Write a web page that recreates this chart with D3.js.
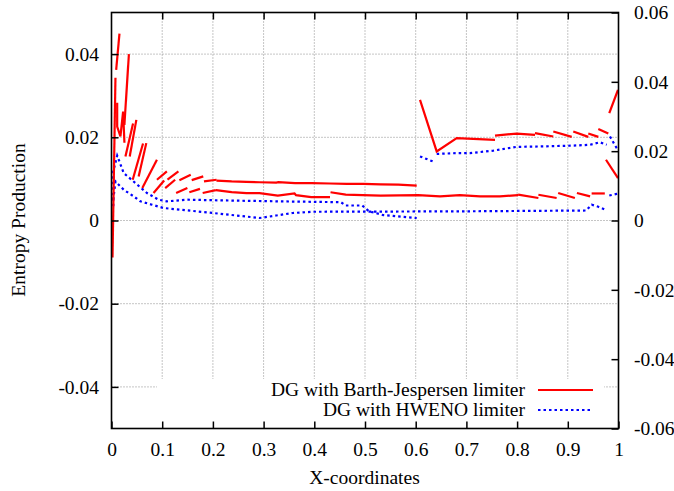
<!DOCTYPE html>
<html>
<head>
<meta charset="utf-8">
<script src="https://cdn.jsdelivr.net/npm/d3@7"></script>
<style>
  html, body { margin: 0; padding: 0; background: #fff; }
  svg { display: block; }
  text { font-family: "Liberation Serif", "Times New Roman", serif; fill: #000; }
</style>
</head>
<body>
<svg id="chart" width="674" height="491"></svg>
<script>
// ---------- data ----------
const xTicks = [0, 0.1, 0.2, 0.3, 0.4, 0.5, 0.6, 0.7, 0.8, 0.9, 1];
const xTickLabels = ["0", "0.1", "0.2", "0.3", "0.4", "0.5", "0.6", "0.7", "0.8", "0.9", "1"];
const yLeftTicks = [0.04, 0.02, 0, -0.02, -0.04];
const yLeftLabels = ["0.04", "0.02", "0", "-0.02", "-0.04"];
const yRightTicks = [0.06, 0.04, 0.02, 0, -0.02, -0.04, -0.06];
const yRightLabels = ["0.06", "0.04", "0.02", "0", "-0.02", "-0.04", "-0.06"];
const seriesNames = ["DG with Barth-Jespersen limiter", "DG with HWENO limiter"];

// Barth-Jespersen (red) element pieces near the left boundary
const redLeftPieces = [
  [[0.0157, 0.0449], [0.0092, 0.0362]],
  [[0.0343, 0.0400], [0.0255, 0.0230]],
  [[0.0078, 0.0343], [0.0020, -0.0089]],
  [[0.0112, 0.0283], [0.0112, 0.0226], [0.0176, 0.0202], [0.0229, 0.0262], [0.0255, 0.0187]],
  [[0.0490, 0.0242], [0.0359, 0.0154]],
  [[0.0425, 0.0233], [0.0275, 0.0154]],
  [[0.0686, 0.0186], [0.0535, 0.0106]],
  [[0.0622, 0.0185], [0.0418, 0.0098]],
  [[0.0896, 0.0146], [0.0608, 0.0078]],
  [[0.0829, 0.0066], [0.1039, 0.0096]],
  [[0.0896, 0.0098], [0.1092, 0.0118]],
  [[0.1104, 0.0098], [0.1320, 0.0118]],
  [[0.1059, 0.0078], [0.1255, 0.0098]],
  [[0.1339, 0.0097], [0.1563, 0.0110]],
  [[0.1275, 0.0066], [0.1496, 0.0078]],
  [[0.1582, 0.0097], [0.1810, 0.0106]],
  [[0.1535, 0.0068], [0.1745, 0.0076]],
  [[0.1824, 0.0094], [0.2073, 0.0098]],
  [[0.1798, 0.0066], [0.2059, 0.0073]]
];
// red upper branch, 0.2 .. 0.6
const redUpperPieces = [
  [[0.207, 0.0096], [0.237, 0.0094], [0.266, 0.0093], [0.292, 0.0092], [0.325, 0.0091],
   [0.329, 0.0092], [0.362, 0.0090], [0.395, 0.0090], [0.431, 0.0089], [0.464, 0.0088],
   [0.497, 0.0088], [0.531, 0.0087], [0.566, 0.0086], [0.602, 0.0084]]
];
// red lower branch, 0.2 .. 1
const redLowerPieces = [
  [[0.206, 0.0073], [0.237, 0.0068], [0.266, 0.0066], [0.292, 0.0066], [0.328, 0.0060],
   [0.361, 0.0065], [0.364, 0.0061], [0.394, 0.0056], [0.431, 0.0056]],
  [[0.432, 0.0068], [0.462, 0.0062], [0.495, 0.0061], [0.531, 0.0060], [0.605, 0.0061],
   [0.648, 0.0058], [0.687, 0.0061], [0.727, 0.0058], [0.766, 0.0058], [0.802, 0.0061]],
  [[0.802, 0.0062], [0.842, 0.0054]],
  [[0.842, 0.0062], [0.878, 0.0054]],
  [[0.881, 0.0066], [0.914, 0.0054]],
  [[0.918, 0.0066], [0.944, 0.0058]],
  [[0.947, 0.0065], [0.973, 0.0065]]
];
// red branch right of 0.6
const redRightPieces = [
  [[0.6085, 0.0290], [0.6414, 0.0166], [0.6809, 0.0198], [0.7564, 0.0194]],
  [[0.7564, 0.0204], [0.7992, 0.0209], [0.8353, 0.0206]],
  [[0.8353, 0.0210], [0.8714, 0.0202]],
  [[0.8714, 0.0214], [0.9077, 0.0201]],
  [[0.9108, 0.0214], [0.9404, 0.0201]],
  [[0.9404, 0.0209], [0.9602, 0.0201]],
  [[0.9602, 0.0220], [0.9799, 0.0209]],
  [[0.9818, 0.0258], [0.9990, 0.0314]],
  [[0.9753, 0.0146], [0.9990, 0.0102]]
];
// HWENO (blue) pieces
const blueUpperPieces = [
  [[0.0035, 0.0034], [0.0035, 0.0118], [0.0112, 0.0156], [0.0241, 0.0114], [0.0471, 0.0090],
   [0.0700, 0.0066], [0.0927, 0.0050], [0.1092, 0.0046], [0.1484, 0.0050], [0.2333, 0.0048],
   [0.3314, 0.0046], [0.4524, 0.0044], [0.4622, 0.0036], [0.4947, 0.0036], [0.5078, 0.0022],
   [0.5361, 0.0013], [0.6020, 0.0006]]
];
const blueLowerPieces = [
  [[0.0035, 0.0050], [0.0078, 0.0094], [0.0241, 0.0074], [0.0437, 0.0058], [0.0569, 0.0046],
   [0.0798, 0.0038], [0.1025, 0.0030], [0.2006, 0.0018], [0.2922, 0.0006], [0.3249, 0.0012],
   [0.3575, 0.0018], [0.3961, 0.0021], [0.6874, 0.0022], [0.9359, 0.0024], [0.9471, 0.0038],
   [0.9602, 0.0033], [0.9734, 0.0026]],
  [[0.9818, 0.0060], [0.9964, 0.0064], [1.0, 0.0065]]
];
const blueRightPieces = [
  [[0.6085, 0.0154], [0.6381, 0.0140]],
  [[0.6414, 0.0160], [0.6809, 0.0162], [0.7071, 0.0162], [0.7531, 0.0168], [0.7992, 0.0177],
   [0.8452, 0.0178], [0.9108, 0.0180], [0.9438, 0.0182], [0.9635, 0.0188], [0.9767, 0.0182]],
  [[0.9832, 0.0202], [0.9897, 0.0188], [0.9964, 0.0174], [1.0, 0.0170]]
];

// ---------- layout ----------
const svg = d3.select("#chart");
const L = 111.5, R = 618.5, T = 12.5, B = 428.5;
const x = d3.scaleLinear().domain([0, 1]).range([L, R]);
const y = d3.scaleLinear().domain([-0.05, 0.05]).range([B, T]);
const y2 = d3.scaleLinear().domain([-0.06, 0.06]).range([B, T]);
const FS = "19.5px";

// grid
const grid = svg.append("g").attr("stroke", "#8a8a8a").attr("stroke-width", 1)
  .attr("stroke-dasharray", "1,2");
grid.selectAll("line.v").data(xTicks.filter(v => v > 0 && v < 1)).enter().append("line")
  .attr("x1", d => x(d)).attr("x2", d => x(d)).attr("y1", T).attr("y2", B);
grid.selectAll("line.h").data(yLeftTicks).enter().append("line")
  .attr("x1", L).attr("x2", R).attr("y1", d => y(d)).attr("y2", d => y(d));
// key area blanks the grid
svg.append("rect").attr("x", 157).attr("y", 379).attr("width", 447).attr("height", B - 379)
  .attr("fill", "#fff");

// data
const line = d3.line().x(d => x(d[0])).y(d => y(d[1]));
const redAll = [].concat(redLeftPieces, redUpperPieces, redLowerPieces, redRightPieces);
const blueAll = [].concat(blueUpperPieces, blueLowerPieces, blueRightPieces);
svg.append("g").selectAll("path").data(blueAll).enter().append("path")
  .attr("d", line).attr("fill", "none").attr("stroke", "#0000ff").attr("stroke-width", 2.2)
  .attr("stroke-dasharray", "2.5,3");
svg.append("g").selectAll("path").data(redAll).enter().append("path")
  .attr("d", line).attr("fill", "none").attr("stroke", "#ff0000").attr("stroke-width", 2.2);

// axes
function styleAxis(g) {
  g.select(".domain").remove();
  g.selectAll(".tick line").attr("stroke", "#000").attr("stroke-width", 1.5);
  g.selectAll(".tick text").style("font-size", FS).attr("fill", "#000");
}
const ax = svg.append("g").attr("transform", `translate(0,${B})`)
  .call(d3.axisBottom(x).tickValues(xTicks).tickFormat((d, i) => xTickLabels[i])
    .tickSize(-7).tickPadding(0));
styleAxis(ax);
ax.selectAll(".tick text").attr("y", 27.5).attr("dy", 0);
const axTop = svg.append("g").attr("transform", `translate(0,${T})`)
  .call(d3.axisTop(x).tickValues(xTicks.filter(v => v > 0 && v < 1)).tickFormat("").tickSize(-7));
styleAxis(axTop);
const ayl = svg.append("g").attr("transform", `translate(${L},0)`)
  .call(d3.axisLeft(y).tickValues(yLeftTicks).tickFormat((d, i) => yLeftLabels[i])
    .tickSize(-7).tickPadding(12.5));
styleAxis(ayl);
const ayr = svg.append("g").attr("transform", `translate(${R},0)`)
  .call(d3.axisRight(y2).tickValues(yRightTicks).tickFormat((d, i) => yRightLabels[i])
    .tickSize(-7).tickPadding(15.5));
styleAxis(ayr);

// border
svg.append("rect").attr("x", L).attr("y", T).attr("width", R - L).attr("height", B - T)
  .attr("fill", "none").attr("stroke", "#000").attr("stroke-width", 1.6);

// titles
svg.append("text").attr("x", (L + R) / 2 - 0.5).attr("y", 484).attr("text-anchor", "middle")
  .style("font-size", FS).text("X-coordinates");
svg.append("text").attr("transform", "translate(25,220) rotate(-90)").attr("text-anchor", "middle")
  .style("font-size", FS).text("Entropy Production");

// legend
const key = svg.append("g");
const keyRows = [
  { name: seriesNames[0], color: "#ff0000", dash: null, yy: 390 },
  { name: seriesNames[1], color: "#0000ff", dash: "2.5,3", yy: 410 }
];
keyRows.forEach(r => {
  key.append("text").attr("x", 525).attr("y", r.yy).attr("dy", "0.32em")
    .attr("text-anchor", "end").style("font-size", FS).text(r.name);
  key.append("line").attr("x1", 538).attr("x2", 593).attr("y1", r.yy).attr("y2", r.yy)
    .attr("stroke", r.color).attr("stroke-width", 2.2)
    .attr("stroke-dasharray", r.dash);
});
</script>
</body>
</html>
